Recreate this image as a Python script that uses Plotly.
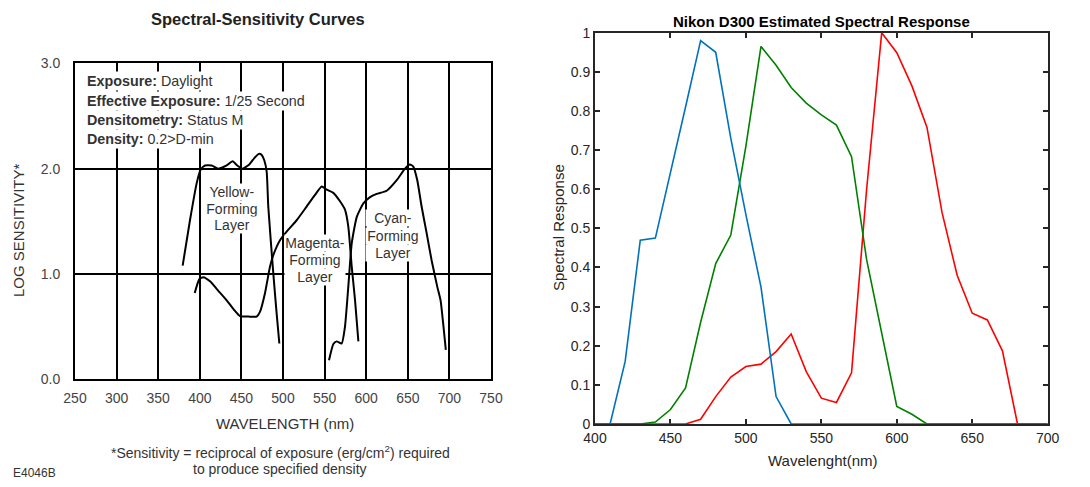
import plotly.graph_objects as go

# Page body has an 8px default margin, so the figure is made 8px smaller
# and all reference pixel positions are shifted by that offset.
W, H = 1090, 487
OFF = 8
FW, FH = W - OFF, H - OFF

# ---------------- Left chart data (Kodak spectral sensitivity) ----------------
yellow_nm = [379.4, 388.2, 396.2, 401.0, 406.2, 414.2, 422.2, 432.3, 439.4, 445.0, 451.4,
             459.5, 465.5, 471.2, 474.4, 477.5, 480.4, 482.3, 488.3, 492.3, 495.6]
yellow_ls = [1.08, 1.51, 1.86, 1.99, 2.03, 2.03, 2.00, 2.03, 2.07, 2.03, 2.00,
             2.04, 2.10, 2.14, 2.13, 2.08, 1.97, 1.64, 1.01, 0.63, 0.34]

magenta_nm = [393.9, 399.4, 404.2, 412.3, 422.3, 432.3, 441.1, 448.3, 460.3, 468.3, 472.3,
              478.4, 484.4, 488.4, 496.4, 506.4, 516.4, 528.4, 538.5, 546.5, 552.5, 560.5,
              568.5, 574.5, 578.5, 582.6, 586.6, 590.6]
magenta_ls = [0.82, 0.95, 0.97, 0.93, 0.84, 0.75, 0.66, 0.60, 0.595, 0.595, 0.64,
              0.82, 1.07, 1.18, 1.32, 1.42, 1.51, 1.64, 1.75, 1.83, 1.80, 1.77,
              1.69, 1.61, 1.45, 1.07, 0.75, 0.36]

cyan_nm = [555.3, 560.5, 564.5, 570.5, 574.5, 578.5, 582.6, 588.6, 596.6, 604.6, 612.6,
           624.6, 636.7, 646.6, 652.6, 656.6, 661.4, 666.6, 672.6, 678.6, 685.4, 689.4,
           692.5, 695.7]
cyan_ls = [0.18, 0.335, 0.36, 0.34, 0.50, 0.88, 1.29, 1.54, 1.67, 1.73, 1.76,
           1.79, 1.89, 2.00, 2.04, 2.02, 1.89, 1.64, 1.39, 1.13, 0.88, 0.75,
           0.53, 0.28]

left_xticks = [250, 300, 350, 400, 450, 500, 550, 600, 650, 700, 750]
left_yticks = [0.0, 1.0, 2.0, 3.0]

info_rows = [("Exposure:", "Daylight"),
             ("Effective Exposure:", "1/25 Second"),
             ("Densitometry:", "Status M"),
             ("Density:", "0.2>D-min")]

# ---------------- Right chart data (Nikon D300) ----------------
wavelength = [400, 410, 420, 430, 440, 450, 460, 470, 480, 490, 500, 510, 520, 530, 540,
              550, 560, 570, 580, 590, 600, 610, 620, 630, 640, 650, 660, 670, 680, 690, 700]
red_resp = [0, 0, 0, 0, 0, 0, 0, 0.012, 0.07, 0.12, 0.147, 0.153, 0.185, 0.23, 0.134,
            0.066, 0.055, 0.131, 0.60, 1.0, 0.949, 0.864, 0.758, 0.54, 0.38, 0.283, 0.266,
            0.187, 0, 0, 0]
green_resp = [0, 0, 0, 0, 0.005, 0.037, 0.092, 0.26, 0.41, 0.483, 0.71, 0.965, 0.917, 0.86,
              0.82, 0.79, 0.764, 0.683, 0.42, 0.235, 0.045, 0.025, 0, 0, 0, 0, 0, 0, 0, 0, 0]
blue_resp = [0, 0, 0.16, 0.47, 0.475, 0.64, 0.81, 0.98, 0.95, 0.73, 0.535, 0.35, 0.07, 0,
             0, 0, 0, 0, 0, 0, 0, 0, 0, 0, 0, 0, 0, 0, 0, 0, 0]

right_xticks = [400, 450, 500, 550, 600, 650, 700]

# ---------------- helpers (reference window pixels -> paper coords) ----------------
def px(x):
    return (x - OFF) / FW

def py(y):
    return 1 - (y - OFF) / FH

FONT = "Liberation Sans, Arial, sans-serif"

fig = go.Figure()

for nm, ls in [(yellow_nm, yellow_ls), (magenta_nm, magenta_ls), (cyan_nm, cyan_ls)]:
    fig.add_trace(go.Scatter(x=nm, y=ls, mode="lines", xaxis="x", yaxis="y",
                             line=dict(color="black", width=2, shape="spline", smoothing=0.5),
                             showlegend=False, hoverinfo="skip"))

for resp, col in [(red_resp, "#FF0000"), (green_resp, "#008000"), (blue_resp, "#0072BD")]:
    fig.add_trace(go.Scatter(x=wavelength, y=resp, mode="lines", xaxis="x2", yaxis="y2",
                             line=dict(color=col, width=1.6), cliponaxis=False,
                             showlegend=False, hoverinfo="skip"))

# ---------------- axes ----------------
fig.update_layout(
    width=FW, height=FH,
    margin=dict(l=0, r=0, t=0, b=0),
    paper_bgcolor="white", plot_bgcolor="white",
    font=dict(family=FONT, color="#333"),
    xaxis=dict(domain=[px(75), px(491)], range=[250, 750], tickvals=left_xticks,
               showgrid=True, gridcolor="black", gridwidth=2, zeroline=False,
               showline=True, linecolor="black", linewidth=2, mirror=True,
               ticks="", ticklabelstandoff=5, automargin=False,
               tickfont=dict(family=FONT, size=14, color="#444"), anchor="y"),
    yaxis=dict(domain=[py(379.3), py(63.3)], range=[0, 3], tickvals=left_yticks,
               tickformat=".1f",
               showgrid=True, gridcolor="black", gridwidth=2, zeroline=False,
               showline=True, linecolor="black", linewidth=2, mirror=True,
               ticks="", ticklabelstandoff=10, automargin=False,
               tickfont=dict(family=FONT, size=14, color="#444"), anchor="x"),
    xaxis2=dict(domain=[px(595), px(1047.7)], range=[400, 700], tickvals=right_xticks,
                showgrid=False, zeroline=False, showline=True, linecolor="#262626",
                linewidth=2, mirror="ticks", ticks="inside", ticklen=5, tickwidth=1.5,
                tickcolor="#262626", layer="below traces", automargin=False,
                tickfont=dict(family=FONT, size=14, color="#262626"), anchor="y2"),
    yaxis2=dict(domain=[py(424), py(32.7)], range=[0, 1], dtick=0.1, tick0=0,
                showgrid=False, zeroline=False, showline=True, linecolor="#262626",
                linewidth=2, mirror="ticks", ticks="inside", ticklen=5, tickwidth=1.5,
                tickcolor="#262626", layer="below traces", automargin=False,
                tickfont=dict(family=FONT, size=14, color="#262626"), anchor="x2"),
)

ann = []

def add_text(x, y, text, size=14, color="#333", xanchor="center", yanchor="middle",
             angle=0, bg=None, width=None, pad=0):
    d = dict(x=px(x), y=py(y), xref="paper", yref="paper", text=text, showarrow=False,
             xanchor=xanchor, yanchor=yanchor, textangle=angle,
             font=dict(family=FONT, size=size, color=color), borderpad=pad)
    if bg:
        d["bgcolor"] = bg
    if width:
        d["width"] = width
    ann.append(d)

# Left chart texts
add_text(258, 19, "<b>Spectral-Sensitivity Curves</b>", size=16.5, color="#222")
add_text(285, 423, "WAVELENGTH (nm)", size=15, color="#333")
add_text(18, 230, "LOG SENSITIVITY*", size=15, color="#333", angle=-90)
add_text(280, 452, "*Sensitivity = reciprocal of exposure (erg/cm<sup>2</sup>) required", size=14)
add_text(280, 469, "to produce specified density", size=14)
add_text(12, 473, "E4046B", size=12, xanchor="left")

row_y = [81, 100.5, 119.5, 138.5]
for (b, n), yy in zip(info_rows, row_y):
    add_text(85, yy, f"<b>{b}</b> {n}", size=14.3, color="#333", xanchor="left",
             bg="white", pad=1)

labels = [
    (231.7, [192, 208.5, 225], ["Yellow-", "Forming", "Layer"], 54),
    (315, [243, 260, 277], ["Magenta-", "Forming", "Layer"], 60),
    (393, [218, 235.5, 253], ["Cyan-", "Forming", "Layer"], 54),
]
for cx, ys, lines, wdt in labels:
    for yy, t in zip(ys, lines):
        add_text(cx, yy, t, size=14, color="#333", bg="white", width=wdt, pad=0)

# Right chart texts
add_text(821, 21, "<b>Nikon D300 Estimated Spectral Response</b>", size=15, color="black")
add_text(822, 460, "Wavelenght(nm)", size=15, color="#262626")
add_text(558, 228, "Spectral Response", size=15, color="#262626", angle=-90)

fig.update_layout(annotations=ann)

fig.write_html("out.html")
